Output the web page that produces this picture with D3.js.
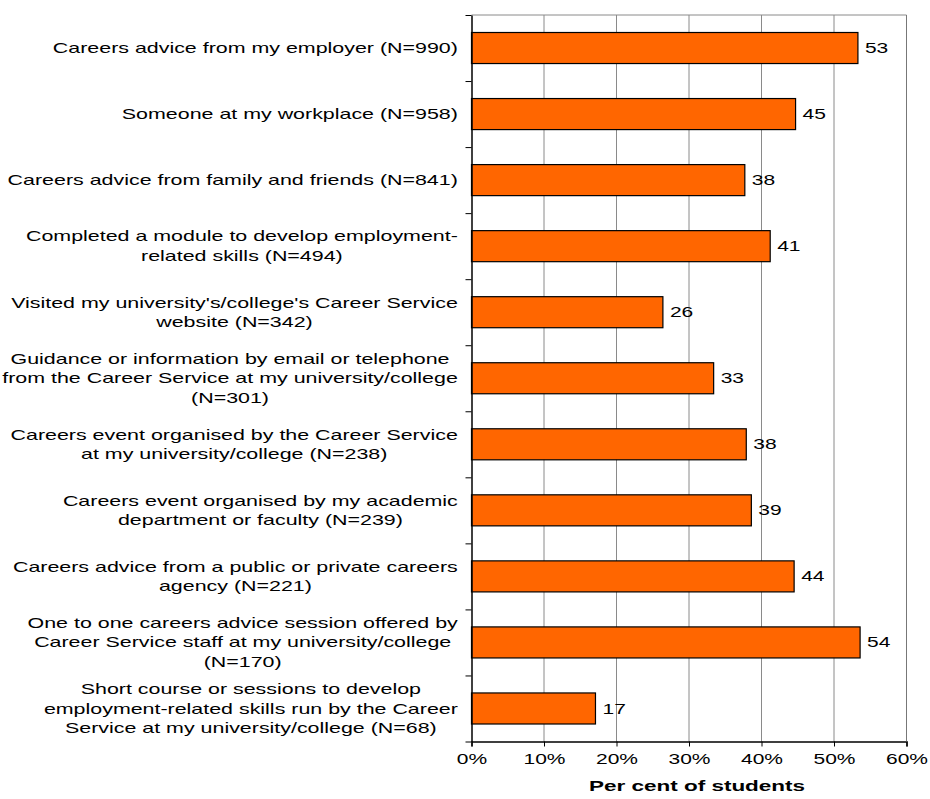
<!DOCTYPE html>
<html lang="en">
    <head>
        <meta charset="utf-8">
        <title>Careers support</title>
        <script src="https://cdn.jsdelivr.net/npm/d3@7"></script>
        <style>
          body { margin: 0; background: #fff; }
          text { font-family: "Liberation Sans", Arial, sans-serif; fill: #000; }
        </style>
    </head>
    <body>
        <script type="text/javascript">

          // chart data
          var categories = [
            ["Careers advice from my employer (N=990)"],
            ["Someone at my workplace (N=958)"],
            ["Careers advice from family and friends (N=841)"],
            ["Completed a module to develop employment-", "related skills (N=494)"],
            ["Visited my university's/college's Career Service", "website (N=342)"],
            ["Guidance or information by email or telephone", "from the Career Service at my university/college", "(N=301)"],
            ["Careers event organised by the Career Service", "at my university/college (N=238)"],
            ["Careers event organised by my academic", "department or faculty (N=239)"],
            ["Careers advice from a public or private careers", "agency (N=221)"],
            ["One to one careers advice session offered by", "Career Service staff at my university/college", "(N=170)"],
            ["Short course or sessions to develop", "employment-related skills run by the Career", "Service at my university/college (N=68)"]
          ];
          var values = [53.3, 44.7, 37.7, 41.2, 26.4, 33.4, 37.9, 38.6, 44.5, 53.6, 17.1];
          var valueLabels = ["53", "45", "38", "41", "26", "33", "38", "39", "44", "54", "17"];
          var xTicks = [0, 10, 20, 30, 40, 50, 60];
          var xTitle = "Per cent of students";

          // layout
          var width = 930;
          var height = 799;
          var plotLeft = 471.5;
          var plotRight = 906.5;
          var plotTop = 15;
          var plotBottom = 741.5;
          var stretch = 1.5;
          var labelStretch = 1.53;
          var lineHeight = 19.5;

          var svg = d3.select("body")
            .append("svg")
            .attr("width", width)
            .attr("height", height);

          var xScale = d3.scaleLinear()
                         .domain([0, 60])
                         .range([plotLeft, plotRight]);
          var yScale = d3.scaleBand()
                         .domain(d3.range(categories.length))
                         .range([plotTop, plotBottom])
                         .paddingInner(0.53)
                         .paddingOuter(0.265);
          var yEdges = d3.scaleLinear()
                         .domain([0, categories.length])
                         .range([plotTop, plotBottom]);

          // grid lines
          svg.append("g")
             .selectAll("line")
             .data(xTicks.slice(1))
             .enter()
             .append("line")
             .attr("x1", d => xScale(d))
             .attr("x2", d => xScale(d))
             .attr("y1", plotTop)
             .attr("y2", plotBottom)
             .attr("stroke", "#8a8a8a")
             .attr("stroke-width", 1);

          // top border
          svg.append("line")
             .attr("x1", plotLeft).attr("x2", plotRight)
             .attr("y1", plotTop).attr("y2", plotTop)
             .attr("stroke", "#8a8a8a");

          // bars
          svg.selectAll("rect.bar")
             .data(values)
             .enter()
             .append("rect")
             .attr("class", "bar")
             .attr("x", xScale(0))
             .attr("y", (d, i) => yScale(i))
             .attr("width", d => xScale(d) - xScale(0))
             .attr("height", yScale.bandwidth())
             .attr("fill", "#ff6600")
             .attr("stroke", "#000")
             .attr("stroke-width", 1.2);

          // value labels
          svg.selectAll("text.val")
             .data(valueLabels)
             .enter()
             .append("text")
             .attr("class", "val")
             .attr("transform", (d, i) => "translate(" + [xScale(values[i]) + 7,
                   yScale(i) + yScale.bandwidth() / 2] + ") scale(" + stretch + ",1)")
             .attr("dy", "0.36em")
             .style("font-size", "14px")
             .text(d => d);

          // x axis
          var xAxis = d3.axisBottom(xScale)
                        .tickValues(xTicks)
                        .tickSize(5)
                        .tickPadding(8)
                        .tickFormat(d => d + "%");
          var gx = svg.append("g")
             .attr("transform", "translate(" + [0, plotBottom] + ")")
             .call(xAxis);
          gx.select(".domain").attr("stroke", "#000").attr("stroke-width", 1.5);
          gx.selectAll(".tick line").attr("stroke", "#000");
          gx.selectAll(".tick text")
            .attr("transform", "scale(" + stretch + ",1)")
            .style("font-size", "14px")
            .style("font-family", "Liberation Sans, Arial, sans-serif");

          // y axis with ticks at category edges
          var yAxis = d3.axisLeft(yEdges)
                        .tickValues(d3.range(categories.length + 1))
                        .tickSize(6)
                        .tickSizeOuter(0)
                        .tickFormat("");
          var gy = svg.append("g")
             .attr("transform", "translate(" + [plotLeft, 0] + ")")
             .call(yAxis);
          gy.select(".domain").attr("stroke", "#000").attr("stroke-width", 1.5);
          gy.selectAll(".tick line").attr("stroke", "#000");

          // right border on top of grid
          svg.append("line")
             .attr("x1", plotRight).attr("x2", plotRight)
             .attr("y1", plotTop).attr("y2", plotBottom)
             .attr("stroke", "#777");

          // category labels, block right aligned, lines centred
          var labelRight = 458;
          categories.forEach(function(lines, i) {
            var g = svg.append("g");
            var cy = yScale(i) + yScale.bandwidth() / 2;
            var texts = lines.map(function(line, j) {
              return g.append("text")
                      .attr("text-anchor", "middle")
                      .attr("y", (j - (lines.length - 1) / 2) * lineHeight)
                      .attr("dy", "0.36em")
                      .style("font-size", "14px")
                      .text(line);
            });
            var maxW = d3.max(texts, t => t.node().getComputedTextLength());
            g.attr("transform", "translate(" + [labelRight - maxW * labelStretch / 2, cy] +
                   ") scale(" + labelStretch + ",1)");
          });

          // x title
          svg.append("text")
             .attr("transform", "translate(" + [(plotLeft + plotRight) / 2 + 8, 791] + ") scale(" + stretch + ",1)")
             .attr("text-anchor", "middle")
             .style("font-size", "15px")
             .style("font-weight", "bold")
             .text(xTitle);
        </script>
    </body>
</html>
